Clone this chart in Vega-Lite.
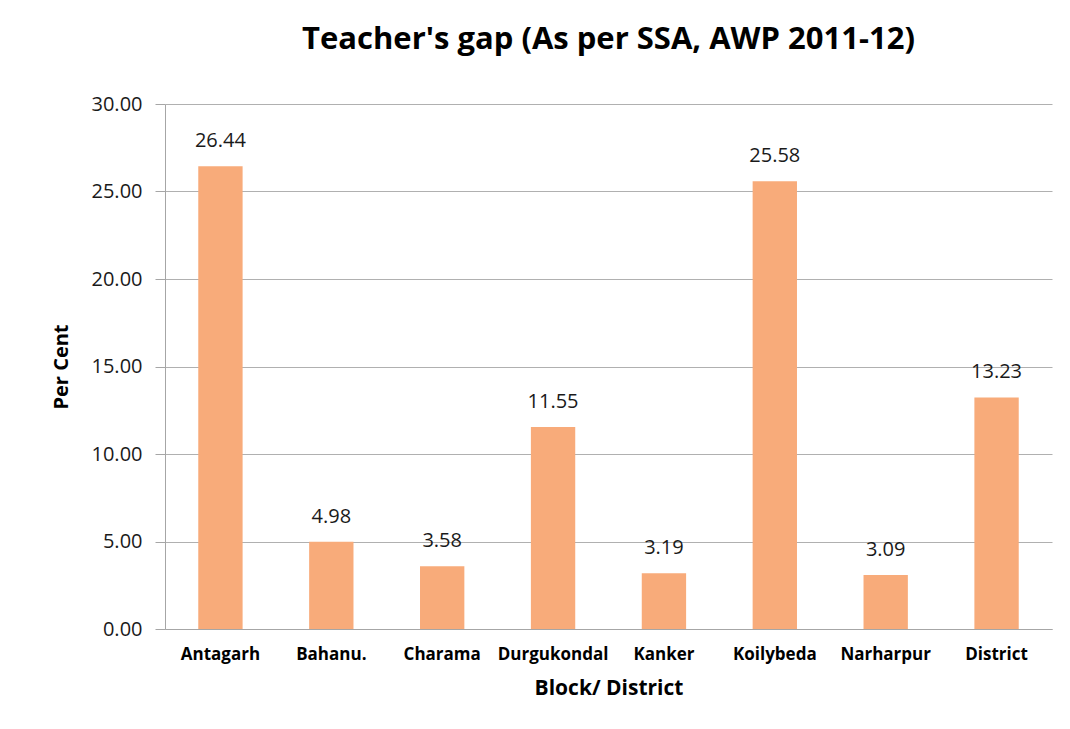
{
  "$schema": "https://vega.github.io/schema/vega-lite/v6.json",
  "width": 887,
  "height": 525,
  "autosize": {"type": "none"},
  "padding": {"left": 165, "top": 104, "right": 18, "bottom": 100},
  "background": "white",
  "title": {
    "text": "Teacher's gap (As per SSA, AWP 2011-12)",
    "font": "Open Sans",
    "fontSize": 31,
    "fontWeight": "bold",
    "color": "#000000",
    "anchor": "middle",
    "baseline": "alphabetic",
    "offset": 14
  },
  "data": {
    "values": [
      {"block": "Antagarh", "gap": 26.44},
      {"block": "Bahanu.", "gap": 4.98},
      {"block": "Charama", "gap": 3.58},
      {"block": "Durgukondal", "gap": 11.55},
      {"block": "Kanker", "gap": 3.19},
      {"block": "Koilybeda", "gap": 25.58},
      {"block": "Narharpur", "gap": 3.09},
      {"block": "District", "gap": 13.23}
    ]
  },
  "encoding": {
    "x": {
      "field": "block",
      "type": "nominal",
      "sort": null,
      "scale": {"paddingInner": 0.6, "paddingOuter": 0.3},
      "axis": {
        "title": "Block/ District",
        "labelAngle": 0,
        "labelFont": "Open Sans",
        "labelFontSize": 17,
        "labelFontWeight": "bold",
        "labelColor": "#000000",
        "labelPadding": 17,
        "ticks": false,
        "domainColor": "#a6a6a6",
        "titleFont": "Open Sans",
        "titleFontSize": 21,
        "titleFontWeight": "bold",
        "titleColor": "#000000",
        "titlePadding": 15
      }
    },
    "y": {
      "field": "gap",
      "type": "quantitative",
      "scale": {"domain": [0, 30]},
      "axis": {
        "title": "Per Cent",
        "values": [0, 5, 10, 15, 20, 25, 30],
        "format": ".2f",
        "labelFont": "Open Sans",
        "labelFontSize": 20,
        "labelColor": "#1a1a1a",
        "labelPadding": 13,
        "tickSize": 10,
        "tickColor": "#a6a6a6",
        "domainColor": "#a6a6a6",
        "gridColor": "#b0b0b0",
        "titleFont": "Open Sans",
        "titleFontSize": 20,
        "titleFontWeight": "bold",
        "titleColor": "#000000",
        "titlePadding": 20
      }
    }
  },
  "layer": [
    {"mark": {"type": "bar", "color": "#F8AB7A"}},
    {
      "mark": {
        "type": "text",
        "font": "Open Sans",
        "fontSize": 20,
        "color": "#1a1a1a",
        "baseline": "alphabetic",
        "dy": -19
      },
      "encoding": {"text": {"field": "gap", "type": "quantitative", "format": ".2f"}}
    }
  ],
  "config": {
    "view": {"stroke": null},
    "axis": {"gridWidth": 1}
  }
}
